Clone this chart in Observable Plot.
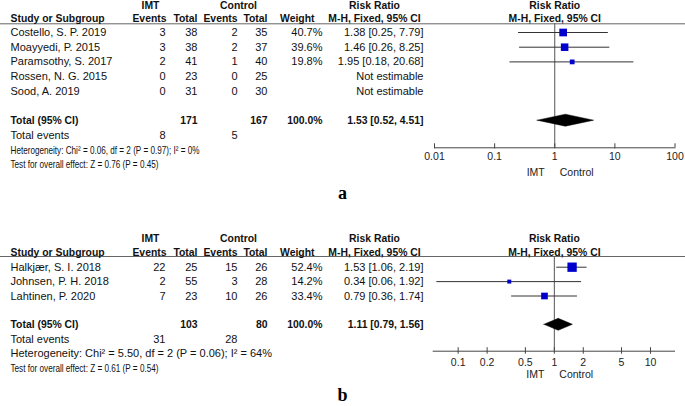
<!DOCTYPE html>
<html><head><meta charset="utf-8">
<script src="https://cdn.jsdelivr.net/npm/d3@7"></script>
<script src="https://cdn.jsdelivr.net/npm/@observablehq/plot@0.6"></script>
<style>
html,body{margin:0;padding:0;background:#fff}
body{width:685px;height:406px;position:relative;overflow:hidden;font-family:"Liberation Sans",Arial,sans-serif}
#pa{position:absolute;left:0;top:0}
#pb{position:absolute;left:0;top:220px}
.lab{position:absolute;left:0;width:685px;text-align:center;font-family:"Liberation Serif","Times New Roman",serif;font-weight:bold;font-size:18px;line-height:20px}
</style></head><body>
<div id="pa"></div><div id="pb"></div>
<div class="lab" style="top:183px">a</div>
<div class="lab" style="top:385px">b</div>
<script>
// ---------- Panel a data ----------
const studiesA = ["Costello, S. P. 2019", "Moayyedi, P. 2015", "Paramsothy, S. 2017", "Rossen, N. G. 2015", "Sood, A. 2019"];
const imtEventsA = [3, 3, 2, 0, 0];
const imtTotalA = [38, 38, 41, 23, 31];
const ctrlEventsA = [2, 2, 1, 0, 0];
const ctrlTotalA = [35, 37, 40, 25, 30];
const weightA = [40.7, 39.6, 19.8, null, null];
const rrA = [1.38, 1.46, 1.95, null, null];
const lowA = [0.25, 0.26, 0.18, null, null];
const highA = [7.79, 8.25, 20.68, null, null];
const pooledA = [1.53, 0.52, 4.51];      // RR, lower, upper
const totalNA = [171, 167];               // IMT total, control total
const totalEventsA = [8, 5];
const hetA = "Heterogeneity: Chi\u00B2 = 0.06, df = 2 (P = 0.97); I\u00B2 = 0%";
const testA = "Test for overall effect: Z = 0.76 (P = 0.45)";
const ticksA = [0.01, 0.1, 1, 10, 100];
const domainA = [0.01, 100];

// ---------- Panel b data ----------
const studiesB = ["Halkj\u00E6r, S. I. 2018", "Johnsen, P. H. 2018", "Lahtinen, P. 2020"];
const imtEventsB = [22, 2, 7];
const imtTotalB = [25, 55, 23];
const ctrlEventsB = [15, 3, 10];
const ctrlTotalB = [26, 28, 26];
const weightB = [52.4, 14.2, 33.4];
const rrB = [1.53, 0.34, 0.79];
const lowB = [1.06, 0.06, 0.36];
const highB = [2.19, 1.92, 1.74];
const pooledB = [1.11, 0.79, 1.56];
const totalNB = [103, 80];
const totalEventsB = [31, 28];
const hetB = "Heterogeneity: Chi\u00B2 = 5.50, df = 2 (P = 0.06); I\u00B2 = 64%";
const testB = "Test for overall effect: Z = 0.61 (P = 0.54)";
const ticksB = [0.1, 0.2, 0.5, 1, 2, 5, 10];
const domainB = [0.055, 18.2];

const headerGroup = ["IMT", "Control"];
const headerCols = ["Events", "Total", "Events", "Total", "Weight"];

function panel(cfg) {
  const f2 = d3.format(".2f");
  const ciText = (rr, lo, hi) => rr == null ? "Not estimable" : `${f2(rr)} [${f2(lo)}, ${f2(hi)}]`;
  const rows = cfg.studies.map((s, i) => ({
    i, name: s, ie: cfg.ie[i], it: cfg.it[i], ce: cfg.ce[i], ct: cfg.ct[i],
    w: cfg.w[i], rr: cfg.rr[i], lo: cfg.lo[i], hi: cfg.hi[i]
  }));
  const n = rows.length;
  const totRow = n + 1, evRow = n + 2, hetRow = n + 3, testRow = n + 4;
  const L = cfg.L;
  const toRow = px => (px - L.row0) / L.step;
  const hdr1 = toRow(L.hdr1), hdr2 = toRow(L.hdr2), lineRow = toRow(L.line), axisRow = toRow(L.axis);
  const tUp = L.tickUp / L.step, tDn = L.tickDn / L.step;
  const half = L.diamondHalf / L.step;
  const C = {name: 10, ie: 165, it: 197, ce: 237, ct: 267, w: 322, ci: 423, imt: 150, ctrl: 238, wh: 314, rrh: 374};
  const BOLD = 10.4;

  const cell = (txt, row, x, anchor, bold) => Plot.text([txt], {
    text: d => d, y: () => row, frameAnchor: "left", dx: x, textAnchor: anchor,
    fontWeight: bold ? "bold" : "normal", fontSize: bold ? BOLD : 11, fill: "#111"
  });
  const col = (acc, x, anchor) => Plot.text(rows, {
    text: acc, y: "i", frameAnchor: "left", dx: x, textAnchor: anchor, fill: "#111"
  });
  const p = cfg.pooled;
  const diamond = [
    {x: p[1], y1: totRow, y2: totRow},
    {x: p[0], y1: totRow - half, y2: totRow + half},
    {x: p[2], y1: totRow, y2: totRow}
  ];
  const hc = headerCols;
  const svg = Plot.plot({
    width: 685, height: L.height,
    marginLeft: 0, marginRight: 0, marginTop: 0, marginBottom: 0,
    x: {type: "log", domain: cfg.domain, range: L.xrange, axis: null},
    y: {type: "linear", domain: [0, 1], range: [L.row0, L.row0 + L.step], axis: null},
    r: {type: "linear", domain: [0, 100], range: [2 / Math.sqrt(Math.PI), 16 / Math.sqrt(Math.PI)]},
    style: {fontFamily: "'Liberation Sans', Arial, sans-serif", fontSize: "11px", background: "white", overflow: "visible"},
    marks: [
      // header rule and vertical line of no effect
      Plot.ruleY([lineRow], {stroke: "#666", strokeWidth: 1}),
      Plot.ruleX([1], {y1: lineRow, y2: axisRow, stroke: "#555", strokeWidth: 1}),
      // axis
      Plot.ruleY([axisRow], {x1: cfg.domain[0], x2: cfg.domain[1], stroke: "#444"}),
      Plot.ruleX(cfg.ticks, {x: d => d, y1: axisRow - tUp, y2: axisRow + tDn, stroke: "#444"}),
      Plot.text(cfg.ticks, {x: d => d, y: () => axisRow, dy: L.tickDy, text: d => String(d), fill: "#222", fontSize: 10.5}),
      Plot.text(["IMT"], {x: () => 1, y: () => axisRow, dy: L.favDy, dx: -10, textAnchor: "end", fill: "#222", fontSize: 10.5}),
      Plot.text(["Control"], {x: () => 1, y: () => axisRow, dy: L.favDy, dx: 5, textAnchor: "start", fill: "#222", fontSize: 10.5}),
      // headers
      cell(headerGroup[0], hdr1, C.imt, "middle", true),
      cell(headerGroup[1], hdr1, C.ctrl, "middle", true),
      cell("Risk Ratio", hdr1, C.rrh, "middle", true),
      Plot.text(["Risk Ratio"], {x: () => 1, y: () => hdr1, text: d => d, fontWeight: "bold", fontSize: BOLD, fill: "#111"}),
      cell("Study or Subgroup", hdr2, C.name, "start", true),
      cell(hc[0], hdr2, C.ie + 1, "end", true),
      cell(hc[1], hdr2, C.it, "end", true),
      cell(hc[2], hdr2, C.ce, "end", true),
      cell(hc[3], hdr2, C.ct, "end", true),
      cell(hc[4], hdr2, C.wh, "end", true),
      cell("M-H, Fixed, 95% CI", hdr2, C.rrh, "middle", true),
      Plot.text(["M-H, Fixed, 95% CI"], {x: () => 1, y: () => hdr2, text: d => d, fontWeight: "bold", fontSize: BOLD, fill: "#111"}),
      // study rows
      col("name", C.name, "start"),
      col(d => String(d.ie), C.ie, "end"),
      col(d => String(d.it), C.it, "end"),
      col(d => String(d.ce), C.ce, "end"),
      col(d => String(d.ct), C.ct, "end"),
      col(d => d.w == null ? "" : d.w.toFixed(1) + "%", C.w, "end"),
      col(d => ciText(d.rr, d.lo, d.hi), C.ci, "end"),
      // total rows
      cell("Total (95% CI)", totRow, C.name, "start", true),
      cell(String(cfg.totalN[0]), totRow, C.it, "end", true),
      cell(String(cfg.totalN[1]), totRow, C.ct, "end", true),
      cell("100.0%", totRow, C.w, "end", true),
      cell(ciText(p[0], p[1], p[2]), totRow, C.ci, "end", true),
      cell("Total events", evRow, C.name, "start", false),
      cell(String(cfg.totalEvents[0]), evRow, C.ie, "end", false),
      cell(String(cfg.totalEvents[1]), evRow, C.ce, "end", false),
      cell(cfg.het, hetRow, C.name, "start", false),
      cell(cfg.test, testRow, C.name, "start", false),
      // forest
      Plot.ruleY(rows, {filter: d => d.rr != null, y: "i", x1: "lo", x2: "hi", stroke: "#333", strokeWidth: 1}),
      Plot.dot(rows, {filter: d => d.rr != null, x: "rr", y: "i", r: "w", symbol: "square", fill: "#0000cc", stroke: "none"}),
      Plot.areaY(diamond, {x: "x", y1: "y1", y2: "y2", fill: "black", stroke: "black", strokeWidth: 0.5})
    ]
  });
  for (const t of svg.querySelectorAll("text")) {
    const s = t.textContent;
    if (s === cfg.het && L.hetLen) { t.setAttribute("textLength", L.hetLen); t.setAttribute("lengthAdjust", "spacingAndGlyphs"); }
    if (s === cfg.test && L.testLen) { t.setAttribute("textLength", L.testLen); t.setAttribute("lengthAdjust", "spacingAndGlyphs"); }
  }
  return svg;
}

document.getElementById("pa").appendChild(panel({
  studies: studiesA, ie: imtEventsA, it: imtTotalA, ce: ctrlEventsA, ct: ctrlTotalA,
  w: weightA, rr: rrA, lo: lowA, hi: highA, pooled: pooledA, totalN: totalNA, totalEvents: totalEventsA,
  het: hetA, test: testA, ticks: ticksA, domain: domainA,
  L: {height: 182, row0: 32, step: 14.7, hdr1: 5.5, hdr2: 18.5, line: 23.3, axis: 147.3,
      tickUp: 4, tickDn: 1, tickDy: 9, favDy: 25, diamondHalf: 6, xrange: [434, 674.5],
      hetLen: 189, testLen: 148}
}));
document.getElementById("pb").appendChild(panel({
  studies: studiesB, ie: imtEventsB, it: imtTotalB, ce: ctrlEventsB, ct: ctrlTotalB,
  w: weightB, rr: rrB, lo: lowB, hi: highB, pooled: pooledB, totalN: totalNB, totalEvents: totalEventsB,
  het: hetB, test: testB, ticks: ticksB, domain: domainB,
  L: {height: 162, row0: 46.7, step: 14.4, hdr1: 18.3, hdr2: 31.7, line: 36, axis: 130.7,
      tickUp: 3.5, tickDn: 3, tickDy: 11, favDy: 23, diamondHalf: 6, xrange: [432.7, 675],
      hetLen: null, testLen: 148}
}));
</script>
</body></html>
